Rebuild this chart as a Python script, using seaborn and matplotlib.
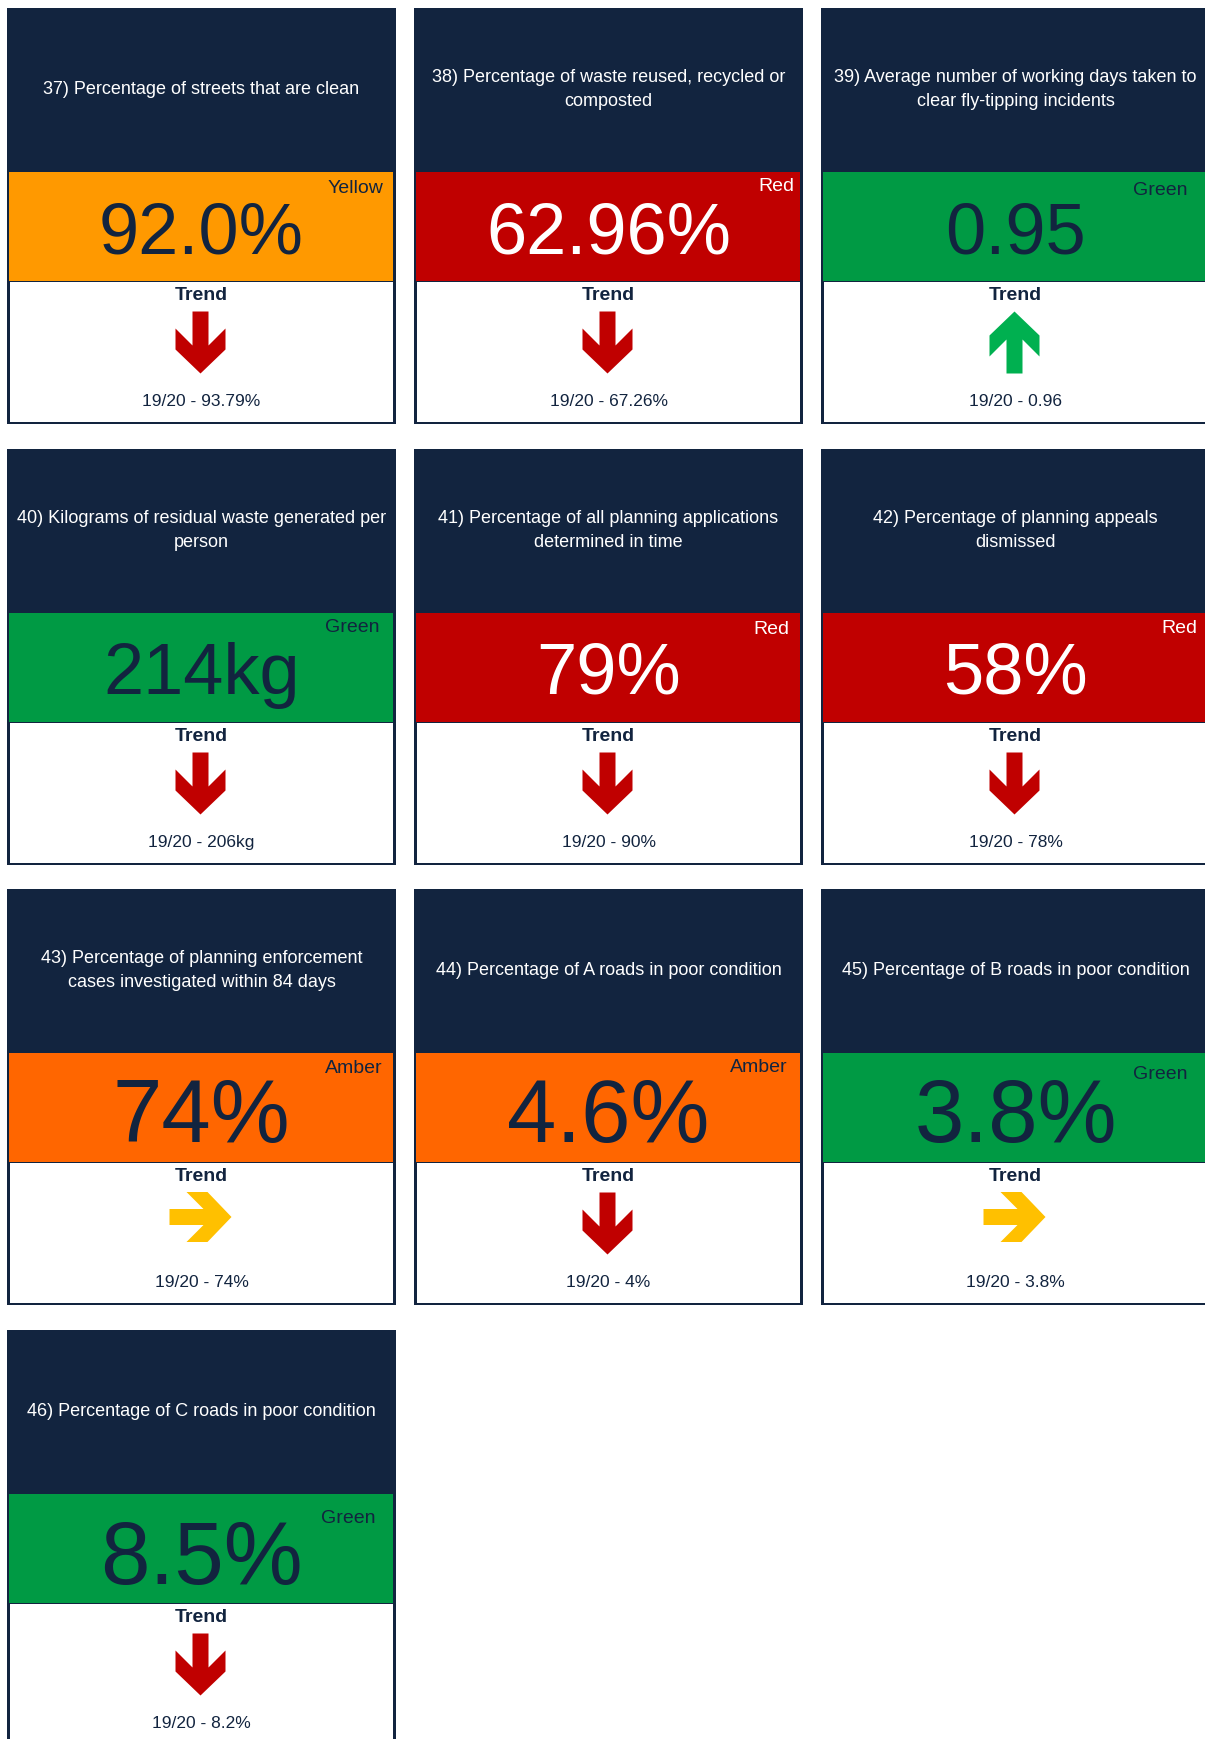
import numpy as np
import pandas as pd
import matplotlib
matplotlib.use("Agg")
import matplotlib.pyplot as plt
from matplotlib.patches import Rectangle, Polygon
import seaborn as sns

# ---------------- data ----------------
kpi_titles = [
    "37) Percentage of streets that are clean",
    "38) Percentage of waste reused, recycled or\ncomposted",
    "39) Average number of working days taken to\nclear fly-tipping incidents",
    "40) Kilograms of residual waste generated per\nperson",
    "41) Percentage of all planning applications\ndetermined in time",
    "42) Percentage of planning appeals\ndismissed",
    "43) Percentage of planning enforcement\ncases investigated within 84 days",
    "44) Percentage of A roads in poor condition",
    "45) Percentage of B roads in poor condition",
    "46) Percentage of C roads in poor condition",
]
current_values = ["92.0%", "62.96%", "0.95", "214kg", "79%", "58%", "74%", "4.6%", "3.8%", "8.5%"]
ratings = ["Yellow", "Red", "Green", "Green", "Red", "Red", "Amber", "Amber", "Green", "Green"]
trend_directions = ["down", "down", "up", "down", "down", "down", "right", "down", "right", "down"]
previous_values = ["19/20 - 93.79%", "19/20 - 67.26%", "19/20 - 0.96", "19/20 - 206kg",
                   "19/20 - 90%", "19/20 - 78%", "19/20 - 74%", "19/20 - 4%",
                   "19/20 - 3.8%", "19/20 - 8.2%"]
trend_label = "Trend"

# ---------------- style / layout ----------------
sns.set_theme(style="white")
plt.rcParams['font.family'] = ['Liberation Sans', 'DejaVu Sans']

NAVY = '#12243F'
band_colors = {'Yellow': '#FF9900', 'Red': '#C00000', 'Green': '#009A44', 'Amber': '#FF6600'}
value_colors = {'Yellow': NAVY, 'Red': 'white', 'Green': NAVY, 'Amber': NAVY}
label_colors = {'Yellow': NAVY, 'Red': 'white', 'Green': NAVY, 'Amber': NAVY}
arrow_colors = {'down': '#C00000', 'up': '#00B050', 'right': '#FFC000'}

col_left = [7, 414, 821]
row_top = [8, 449, 889, 1330]
CARD_W, CARD_H = 389, 416
HEAD_H, BAND_H = 163, 110
label_dx = [-13, -9, -23, -16, -14, -13, -13, -15, -23, -21]
label_dy = [22, 20, 24, 20, 22, 21, 21, 20, 27, 30]
value_sizes = [52, 52, 52, 52, 52, 52, 64, 64, 64, 64]
value_dy = [27, 27, 27, 27, 27, 27, 35, 35, 35, 36]

# arrow shape pointing along +u (u = length axis, v = cross axis), in px
ARROW = np.array([(-31, -8), (3, -8), (-14, -25), (7, -25), (31, 0),
                  (7, 25), (-14, 25), (3, 8), (-31, 8)], dtype=float)

df = pd.DataFrame({
    "title": kpi_titles, "value": current_values, "rating": ratings,
    "trend": trend_directions, "previous": previous_values,
})

fig = plt.figure(figsize=(12.05, 17.39), dpi=100)
ax = fig.add_axes([0, 0, 1, 1])
ax.set_xlim(0, 1205)
ax.set_ylim(1739, 0)
ax.axis('off')
sns.despine(ax=ax, left=True, bottom=True)

for i, r in df.iterrows():
    x0 = col_left[i % 3]
    y0 = row_top[i // 3]
    cx = x0 + CARD_W / 2
    # card background / border
    ax.add_patch(Rectangle((x0, y0), CARD_W, CARD_H, facecolor=NAVY, edgecolor='none', zorder=1))
    # rating band
    band_top = y0 + HEAD_H
    ax.add_patch(Rectangle((x0 + 2, band_top + 0.5), CARD_W - 5, BAND_H - 1,
                           facecolor=band_colors[r.rating], edgecolor='none', zorder=2))
    # white trend section
    wt = band_top + BAND_H + 1
    ax.add_patch(Rectangle((x0 + 2.5, wt), CARD_W - 6, CARD_H - HEAD_H - BAND_H - 3.5,
                           facecolor='white', edgecolor='none', zorder=2))
    # title
    ax.text(cx, y0 + HEAD_H / 2, r.title, color='white', fontsize=13, ha='center', va='center',
            linespacing=1.6, zorder=5)
    # value
    ax.text(cx, band_top + BAND_H / 2 + value_dy[i], r.value, color=value_colors[r.rating],
            fontsize=value_sizes[i], ha='center', va='baseline', zorder=5)
    # rating label
    ax.text(x0 + CARD_W + label_dx[i], band_top + label_dy[i], r.rating,
            color=label_colors[r.rating], fontsize=14, ha='right', va='baseline', zorder=5)
    # trend label
    ax.text(cx, y0 + 292, trend_label, color=NAVY, fontsize=14, fontweight='bold',
            ha='center', va='baseline', zorder=5)
    # arrow
    u, v = ARROW[:, 0], ARROW[:, 1]
    if r.trend == 'down':
        pts = np.column_stack([v, u]); acy = y0 + 334.5
    elif r.trend == 'up':
        pts = np.column_stack([v, -u]); acy = y0 + 334.5
    else:
        pts = np.column_stack([u, v]); acy = y0 + 328
    pts = pts + np.array([cx - 1, acy])
    ax.add_patch(Polygon(pts, closed=True, facecolor=arrow_colors[r.trend], edgecolor='none', zorder=4))
    # previous value
    ax.text(cx, y0 + 398, r.previous, color=NAVY, fontsize=12.5, ha='center', va='baseline', zorder=5)

fig.savefig("out.png", dpi=100, facecolor='white')
